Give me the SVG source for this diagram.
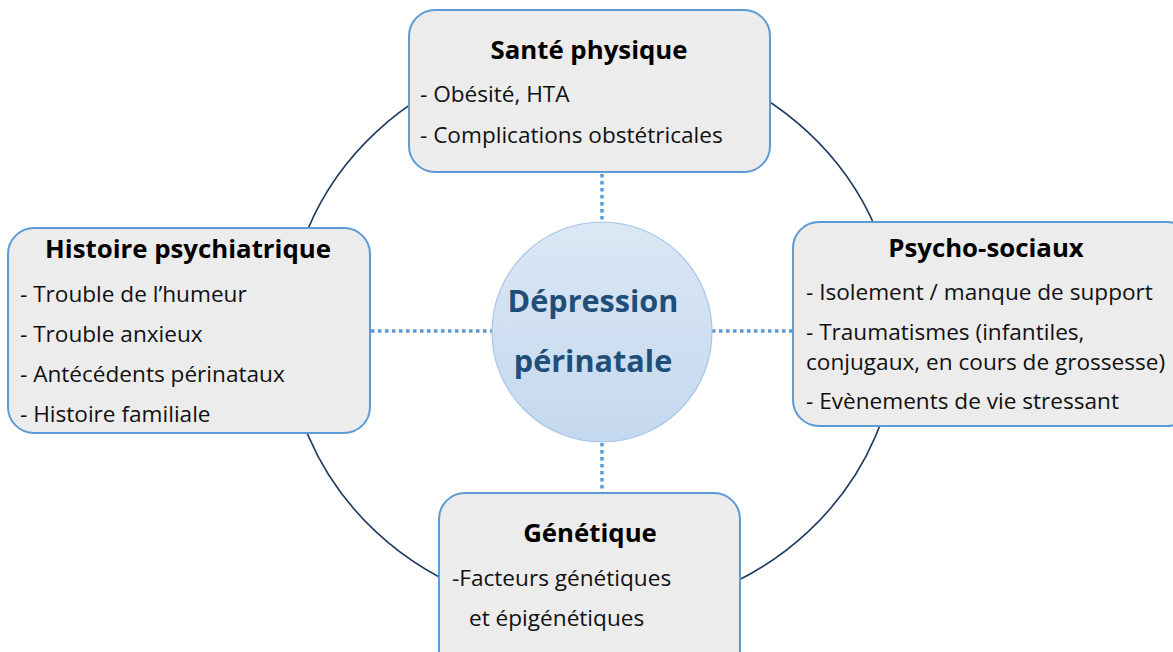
<svg xmlns="http://www.w3.org/2000/svg" width="1173" height="652" viewBox="0 0 1173 652">
<defs>
<linearGradient id="cg" x1="0" y1="0" x2="0" y2="1">
<stop offset="0" stop-color="#dbe7f4"/>
<stop offset="1" stop-color="#c4d8ef"/>
</linearGradient>
</defs>
<style>
.box{fill:#ececec;stroke:#5b9bd5;stroke-width:2}
.ttl{font-family:"Open Sans","Liberation Sans",sans-serif;font-weight:bold;font-size:25.8px;fill:#000;text-anchor:middle}
.itm{font-family:"Open Sans","Liberation Sans",sans-serif;font-size:22.6px;fill:#111}
.dot{stroke:#5b9bd5;stroke-width:3.5;stroke-dasharray:3.5,3.5;fill:none}
.ctr{font-family:"Open Sans","Liberation Sans",sans-serif;font-weight:bold;font-size:30.6px;fill:#1f4e79;text-anchor:middle}
</style>
<rect width="1173" height="652" fill="#ffffff"/>
<ellipse id="ring" cx="592" cy="332" rx="305" ry="283" fill="none" stroke="#1f3a5f" stroke-width="1.6"/>
<g id="connectors">
<line class="dot" x1="602" y1="174" x2="602" y2="223"/>
<line class="dot" x1="602" y1="443" x2="602" y2="493"/>
<line class="dot" x1="371" y1="331" x2="492" y2="331"/>
<line class="dot" x1="712" y1="331" x2="793" y2="331"/>
</g>
<g id="sante">
<rect class="box" x="409" y="10" width="361" height="162" rx="26"/>
<text class="ttl" x="589" y="59">Santé physique</text>
<text class="itm" x="420" y="102">- Obésité, HTA</text>
<text class="itm" x="420" y="143">- Complications obstétricales</text>
</g>
<g id="histoire">
<rect class="box" x="8" y="228" width="362" height="205" rx="26"/>
<text class="ttl" x="188" y="258">Histoire psychiatrique</text>
<text class="itm" x="20" y="302">- Trouble de l’humeur</text>
<text class="itm" x="20" y="342">- Trouble anxieux</text>
<text class="itm" x="20" y="382">- Antécédents périnataux</text>
<text class="itm" x="20" y="422">- Histoire familiale</text>
</g>
<g id="psycho">
<rect class="box" x="793" y="222" width="400" height="204" rx="26"/>
<text class="ttl" x="986" y="257">Psycho-sociaux</text>
<text class="itm" x="806" y="300">- Isolement / manque de support</text>
<text class="itm" x="806" y="340">- Traumatismes (infantiles,</text>
<text class="itm" x="806" y="370">conjugaux, en cours de grossesse)</text>
<text class="itm" x="806" y="409">- Evènements de vie stressant</text>
</g>
<g id="genetique">
<rect class="box" x="439" y="493" width="301" height="190" rx="26"/>
<text class="ttl" x="590" y="542">Génétique</text>
<text class="itm" x="452" y="586">-Facteurs génétiques</text>
<text class="itm" x="469" y="626">et épigénétiques</text>
</g>
<g id="centre">
<circle cx="602" cy="332" r="110" fill="url(#cg)" stroke="#a9c5e6" stroke-width="1.2"/>
<text class="ctr" x="593" y="312">Dépression</text>
<text class="ctr" x="593" y="372">périnatale</text>
</g>
</svg>
